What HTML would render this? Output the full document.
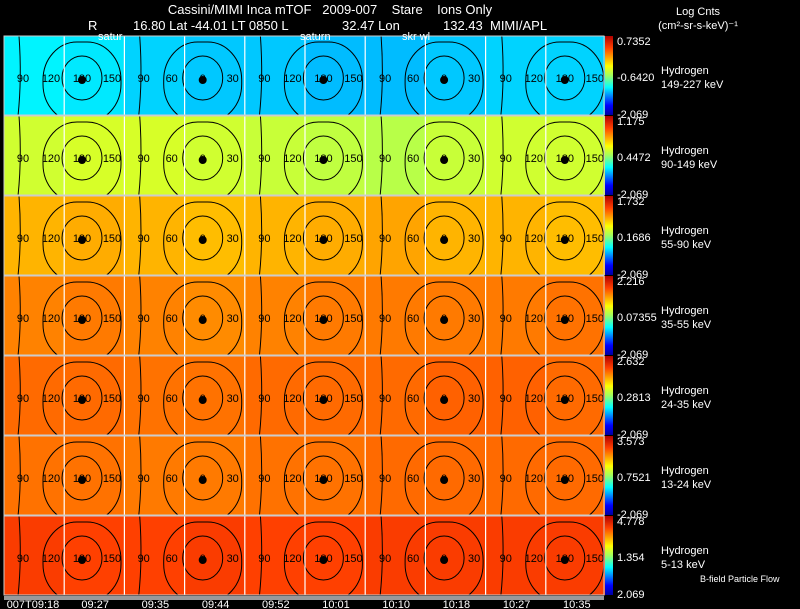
<!DOCTYPE html>
<html><head><meta charset="utf-8"><style>
html,body{margin:0;padding:0;background:#000;}
svg{display:block;font-family:"Liberation Sans",Arial,sans-serif;}
svg text{white-space:pre;}
</style></head><body>
<svg id="chart" width="800" height="609" viewBox="0 0 800 609" xmlns="http://www.w3.org/2000/svg">
<rect x="0" y="0" width="800" height="609" fill="#000"/>
<text x="330" y="14" fill="#fff" font-size="13" text-anchor="middle">Cassini/MIMI Inca mTOF   2009-007    Stare    Ions Only</text>
<text x="88" y="30" fill="#fff" font-size="13">R</text>
<text x="133" y="30" fill="#fff" font-size="13">16.80 Lat -44.01 LT 0850 L</text>
<text x="342" y="30" fill="#fff" font-size="13">32.47 Lon</text>
<text x="443" y="30" fill="#fff" font-size="13">132.43  MIMI/APL</text>
<text x="698" y="15" fill="#fff" font-size="11" text-anchor="middle">Log Cnts</text>
<text x="698" y="29" fill="#fff" font-size="11" text-anchor="middle">(cm²-sr-s-keV)⁻¹</text>
<defs>
<linearGradient id="jet" x1="0" y1="1" x2="0" y2="0">
<stop offset="0" stop-color="#0000a0"/><stop offset="0.12" stop-color="#0000ff"/><stop offset="0.35" stop-color="#00ffff"/><stop offset="0.5" stop-color="#a0ff60"/><stop offset="0.62" stop-color="#ffff00"/><stop offset="0.85" stop-color="#ff4000"/><stop offset="1" stop-color="#b00000"/>
</linearGradient>
</defs>
<g id="panels"></g>
<g id="axis"></g>
</svg>
<script>
const energies = ["149-227 keV","90-149 keV","55-90 keV","35-55 keV","24-35 keV","13-24 keV","5-13 keV"];
const cbMax = ["0.7352","1.175","1.732","2.216","2.632","3.573","4.778"];
const cbMid = ["-0.6420","0.4472","0.1686","0.07355","0.2813","0.7521","1.354"];
const cbMin = ["-2.069","-2.069","-2.069","-2.069","-2.069","-2.069","2.069"];
// normalized colour level (0..1 of colour bar) per panel per 60-px column block
const panelLevels = [
 [0.34,0.33,0.31,0.30,0.30,0.29,0.29,0.30,0.31,0.31],
 [0.56,0.57,0.57,0.56,0.55,0.54,0.53,0.55,0.56,0.56],
 [0.71,0.72,0.71,0.70,0.71,0.72,0.73,0.71,0.71,0.70],
 [0.77,0.78,0.77,0.76,0.77,0.78,0.78,0.78,0.78,0.79],
 [0.80,0.80,0.79,0.79,0.80,0.80,0.80,0.81,0.81,0.80],
 [0.79,0.79,0.78,0.78,0.79,0.79,0.80,0.80,0.80,0.80],
 [0.86,0.85,0.85,0.86,0.85,0.85,0.86,0.86,0.86,0.86]
];
const timeLabels = ["007T09:18","09:27","09:35","09:44","09:52","10:01","10:10","10:18","10:27","10:35"];
const contourCenters = ["180","0","180","0","180"];

const X0=4, X1=604, PT=36, PH=80;
const xCol = i => X0 + i*60.2;
const yPanel = p => PT + p*PH;
function jet(v){
  const stops=[[0,[0,0,160]],[0.12,[0,0,255]],[0.35,[0,255,255]],[0.5,[160,255,96]],[0.62,[255,255,0]],[0.85,[255,64,0]],[1,[176,0,0]]];
  for(let i=1;i<stops.length;i++){ if(v<=stops[i][0]){const a=stops[i-1],b=stops[i];const t=(v-a[0])/(b[0]-a[0]);
    return 'rgb('+a[1].map((c,k)=>Math.round(c+(b[1][k]-c)*t)).join(',')+')';}}
  return 'rgb(176,0,0)';
}
const NS='http://www.w3.org/2000/svg';
function mk(tag,attrs,parent,txt){const e=document.createElementNS(NS,tag);for(const k in attrs)e.setAttribute(k,attrs[k]);if(txt!==undefined)e.textContent=txt;parent.appendChild(e);return e;}
const gp=document.getElementById('panels');
energies.forEach((en,p)=>{
  const y=yPanel(p);
  const g=mk('g',{},gp);
  
  
  panelLevels[p].forEach((v,i)=>{
    const r=mk('rect',{x:xCol(i),y:y,width:60.6,height:PH-1,fill:jet(v)},g);
    
    
  });
  const cy=y+42;
  contourCenters.forEach((c,k)=>{
    const cx=82+k*120.7;
    const cg=mk('g',{fill:'none',stroke:'#000','stroke-width':1},g);
    
    
    mk('ellipse',{cx:cx,cy:cy,rx:20,ry:22},cg);
    mk('rect',{x:cx-39,y:cy-36,width:78,height:80,rx:34,ry:38},cg);
    mk('path',{d:'M'+(cx-63)+' '+(y)+' Q'+(cx-60)+' '+cy+' '+(cx-64)+' '+(y+PH)},cg);
    const tg=mk('g',{fill:'#000','font-size':11,'text-anchor':'middle'},g);
    
    
    const L = c==='180'?['90','120','150']:['90','60','30'];
    mk('text',{x:cx-59,y:cy+4},tg,L[0]);
    mk('text',{x:cx-31,y:cy+4},tg,L[1]);
    mk('text',{x:cx+30,y:cy+4},tg,L[2]);
    mk('text',{x:cx,y:cy+4},tg,c);
    mk('circle',{cx:cx,cy:cy+2,r:4},tg);
  });
  for(let i=1;i<10;i++){const l=mk('line',{x1:xCol(i),y1:y,x2:xCol(i),y2:y+PH-1,stroke:'#fff','stroke-width':1.2},g);
    
    }
  const fr=mk('rect',{x:X0,y:y,width:X1-X0,height:PH-1,fill:'none',stroke:'#ccc','stroke-width':1},g);
  
  
  const cb=mk('rect',{x:605,y:y,width:8,height:PH-1,fill:'url(#jet)'},g);
  
  
  const t1=mk('text',{x:617,y:y+9,fill:'#fff','font-size':11},g,cbMax[p]);
  
  
  const t2=mk('text',{x:617,y:y+45,fill:'#fff','font-size':11},g,cbMid[p]);
  
  
  const t3=mk('text',{x:617,y:y+PH+2,fill:'#fff','font-size':11},g,cbMin[p]);
  
  
  const h=mk('text',{x:661,y:y+38,fill:'#fff','font-size':11},g,'Hydrogen');
  
  
  const e=mk('text',{x:661,y:y+52,fill:'#fff','font-size':11},g,en);
  
  
});
const ga=document.getElementById('axis');
const gb=mk('rect',{x:X0,y:596,width:X1-X0,height:4,fill:'#999'},ga);


timeLabels.forEach((t,i)=>{
  const tx=mk('text',{x:(i===0?33:xCol(i)+31),y:608,fill:'#fff','font-size':11,'text-anchor':'middle'},ga,t);
  
  
});
const bf=mk('text',{x:700,y:582,fill:'#fff','font-size':9},ga,'B-field Particle Flow');


[['satur',98],['saturn',300],['skr wl',402]].forEach(([s,x])=>{
  const st=mk('text',{x:x,y:40,fill:'#fff','font-size':11},ga,s);
  
  
});
</script>
</body></html>
